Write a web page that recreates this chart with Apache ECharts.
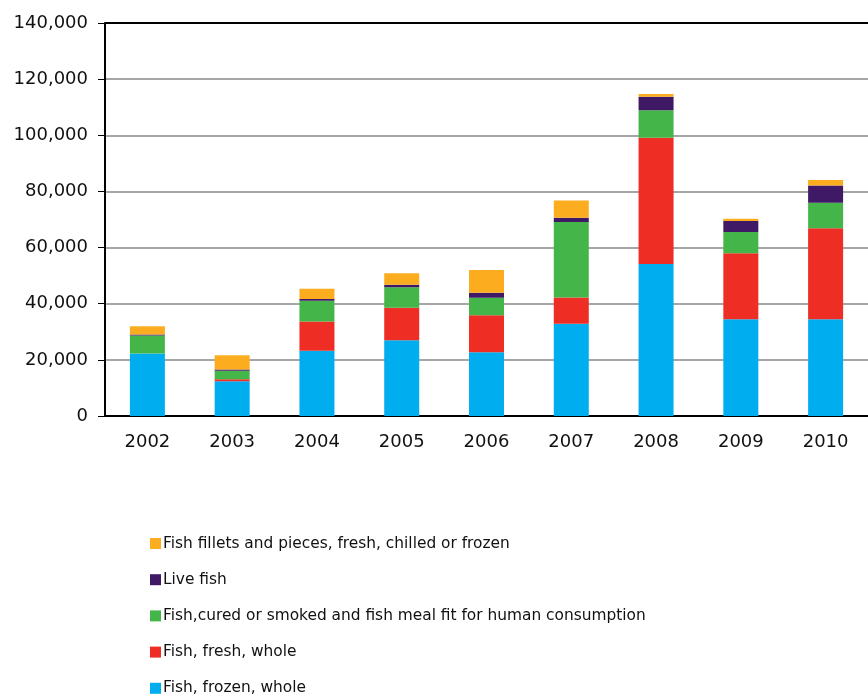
<!DOCTYPE html>
<html>
<head>
<meta charset="utf-8">
<script src="https://cdn.jsdelivr.net/npm/echarts@6/dist/echarts.min.js"></script>
<style>
  html, body { margin: 0; padding: 0; background: #fff; }
  #chart { width: 868px; height: 697px; }
</style>
</head>
<body>
<div id="chart"></div>
<script>
// ---------- DATA ----------
const years = ['2002', '2003', '2004', '2005', '2006', '2007', '2008', '2009', '2010'];

const frozenWhole = [22300, 12350, 23250, 26950, 22700, 32900, 54150, 34450, 34450];
const freshWhole = [0, 700, 10450, 11650, 13150, 9350, 45000, 23500, 32400];
const curedSmoked = [6400, 3100, 7350, 7250, 6300, 26850, 9750, 7600, 9150];
const liveFish = [300, 450, 600, 950, 1750, 1550, 4850, 3900, 6150];
const fillets = [3000, 5000, 3700, 4050, 8100, 6150, 950, 850, 1900];

const seriesNames = [
	'Fish, frozen, whole',
	'Fish, fresh, whole',
	'Fish,cured or smoked and fish meal fit for human consumption',
	'Live fish',
	'Fish fillets and pieces, fresh, chilled or frozen'
];
const seriesColors = ['#00aeef', '#ee2e24', '#44b649', '#3f1866', '#fbac1f'];
const seriesData = [frozenWhole, freshWhole, curedSmoked, liveFish, fillets];

// ---------- CHART ----------
var fishChart = echarts.init(document.getElementById('chart'));

let fishChartOptions = {
	animation: false,
	textStyle: {
		fontFamily: 'DejaVu Sans'
	},
	grid: {
		left: 105,
		top: 23,
		width: 776,
		height: 393
	},
	legend: {
		orient: 'vertical',
		left: 145,
		top: 531,
		height: 180,
		itemWidth: 11,
		itemHeight: 11,
		itemGap: 21.2,
		icon: 'rect',
		data: seriesNames.slice().reverse(),
		textStyle: {
			fontSize: 15.4,
			color: '#111',
			padding: [0, 0, 0, -3]
		}
	},
	xAxis: {
		type: 'category',
		data: years,
		axisLine: {
			lineStyle: { color: '#000', width: 2 }
		},
		axisTick: {
			length: 7,
			lineStyle: { color: '#000', width: 2 }
		},
		axisLabel: {
			fontSize: 18,
			color: '#111',
			margin: 17
		}
	},
	yAxis: {
		type: 'value',
		min: 0,
		max: 140000,
		interval: 20000,
		axisLine: {
			show: true,
			lineStyle: { color: '#000', width: 2 }
		},
		axisTick: {
			show: true,
			length: 7,
			lineStyle: { color: '#000', width: 1 }
		},
		axisLabel: {
			fontSize: 18,
			color: '#111',
			margin: 17,
			formatter: function (v) {
				return v.toLocaleString('en-US');
			}
		},
		splitLine: {
			lineStyle: {
				color: ['#a6a6a6', '#a6a6a6', '#a6a6a6', '#a6a6a6', '#a6a6a6', '#a6a6a6', '#a6a6a6', '#000'],
				width: 2
			}
		}
	},
	series: seriesNames.map(function (name, i) {
		return {
			name: name,
			type: 'bar',
			stack: 'total',
			barWidth: 35,
			itemStyle: {
				color: seriesColors[i]
			},
			data: seriesData[i]
		};
	})
};

fishChart.setOption(fishChartOptions);
</script>
</body>
</html>
